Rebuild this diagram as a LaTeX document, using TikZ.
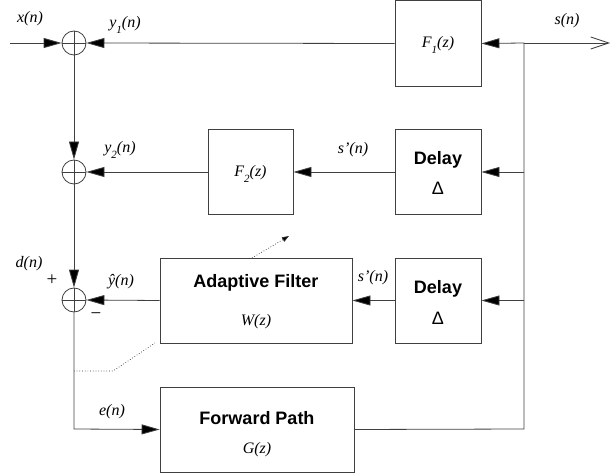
\documentclass[tikz,border=0pt]{standalone}
\usepackage{fontspec}
\setmainfont{Liberation Serif}
\setsansfont{Liberation Sans}
\usetikzlibrary{arrows.meta}
\begin{document}
\begin{tikzpicture}[x=1pt,y=-1pt,
  ln/.style={draw=black!75,line width=0.8pt},
  blk/.style={ln,fill=white,inner sep=0pt,align=center},
  sumj/.style={circle,ln,minimum size=24pt,inner sep=0pt},
  arr/.style={ln,-{Triangle[length=18pt,width=10pt,fill=black]}},
  oarr/.style={ln,-{Straight Barb[length=18pt,width=12pt]}},
  lab/.style={font=\fontsize{16}{18}\selectfont\itshape,inner sep=0pt},
  btxt/.style={font=\fontsize{18}{20}\selectfont\sffamily\bfseries,inner sep=0pt},
  dtxt/.style={font=\fontsize{18}{20}\selectfont\sffamily,inner sep=0pt},
  ctxt/.style={font=\fontsize{16}{18}\selectfont\itshape,inner sep=0pt},
  sgn/.style={font=\fontsize{19}{20}\selectfont,inner sep=0pt},
  dot/.style={draw=black!80,line width=0.7pt,dotted}
]
\useasboundingbox (0,0) rectangle (613,476);
\newcommand{\sub}[1]{\raisebox{-0.7ex}{\fontsize{11}{12}\selectfont #1}}

% summing junctions
\node[sumj] (s1) at (74,43) {};
\node[sumj] (s2) at (74,172) {};
\node[sumj] (s3) at (74,300) {};
\foreach \s in {s1,s2,s3}{
  \draw[ln] (\s.north) -- (\s.south);
  \draw[ln] (\s.west) -- (\s.east);
}

% blocks
\node[blk,minimum width=86pt,minimum height=86pt] (F1) at (438,43.5) {};
\node[blk,minimum width=85pt,minimum height=85pt] (F2) at (250.5,172) {};
\node[blk,minimum width=86pt,minimum height=85pt] (D1) at (438,172) {};
\node[blk,minimum width=192pt,minimum height=85pt] (AF) at (256,300.5) {};
\node[blk,minimum width=86pt,minimum height=85pt] (D2) at (438,300.5) {};
\node[blk,minimum width=194pt,minimum height=85pt] (FP) at (257,429.5) {};

% block texts
\node[ctxt] (tF1) at (438,45) {F\sub{1}(z)};
\node[ctxt] (tF2) at (250.5,174) {F\sub{2}(z)};
\node[btxt] (tD1) at (438,160) {Delay};
\node[dtxt] (tD1b) at (438,188) {Δ};
\node[btxt] (tAF) at (256,283) {Adaptive Filter};
\node[ctxt] (tAFb) at (256,322) {W(z)};
\node[btxt] (tD2) at (438,289) {Delay};
\node[dtxt] (tD2b) at (438,318) {Δ};
\node[btxt] (tFP) at (257,418) {Forward Path};
\node[ctxt] (tFPb) at (257,450) {G(z)};

% coordinates
\coordinate (xin) at (10,43);
\coordinate (out) at (610,43);
\coordinate (c1) at (524,43);
\coordinate (c2) at (524,172);
\coordinate (c3) at (524,300.5);
\coordinate (c4) at (524,429);
\coordinate (corner) at (74,429);

% connectors
\draw[arr] (xin) -- (s1.west);
\draw[arr] (F1.west) -- (s1.east);
\draw[oarr] (c1) -- (out);
\draw[arr] (c1) -- (F1.east);
\draw[arr] (s1.south) -- (s2.north);
\draw[arr] (F2.west) -- (s2.east);
\draw[arr] (D1.west) -- (F2.east);
\draw[arr] (c2) -- (D1.east);
\draw[arr] (s2.south) -- (s3.north);
\draw[arr] (AF.west) -- (s3.east);
\draw[arr] (D2.west) -- (AF.east);
\draw[arr] (c3) -- (D2.east);
\draw[arr] (s3.south) -- (corner) -- (FP.west);
\draw[ln] (FP.east) -- (c4) -- (c1);

% adaptation (dotted)
\coordinate (d0) at (74,371);
\coordinate (d1) at (113,371);
\coordinate (d2) at (155,343);
\coordinate (d3) at (252,258);
\coordinate (d4) at (289,236);
\draw[dot] (d0) -- (d1) -- (d2);
\draw[dot,-{Triangle[length=7pt,width=5pt,fill=black]}] (d3) -- (d4);

% labels
\node[lab] (lx) at (30,19) {x(n)};
\node[lab] (ly1) at (125,25) {y\sub{1}(n)};
\node[lab] (lsn) at (567,21) {s(n)};
\node[lab] (ly2) at (120,150) {y\sub{2}(n)};
\node[lab] (lsp1) at (353,150) {s’(n)};
\node[lab] (ld) at (29,264) {d(n)};
\node[sgn] (lplus) at (52,280) {+};
\node[lab] (lyh) at (121,282) {\^{y}(n)};
\node[sgn] (lminus) at (96,316) {−};
\node[lab] (lsp2) at (373,278) {s’(n)};
\node[lab] (le) at (112,412) {e(n)};
\end{tikzpicture}
\end{document}
